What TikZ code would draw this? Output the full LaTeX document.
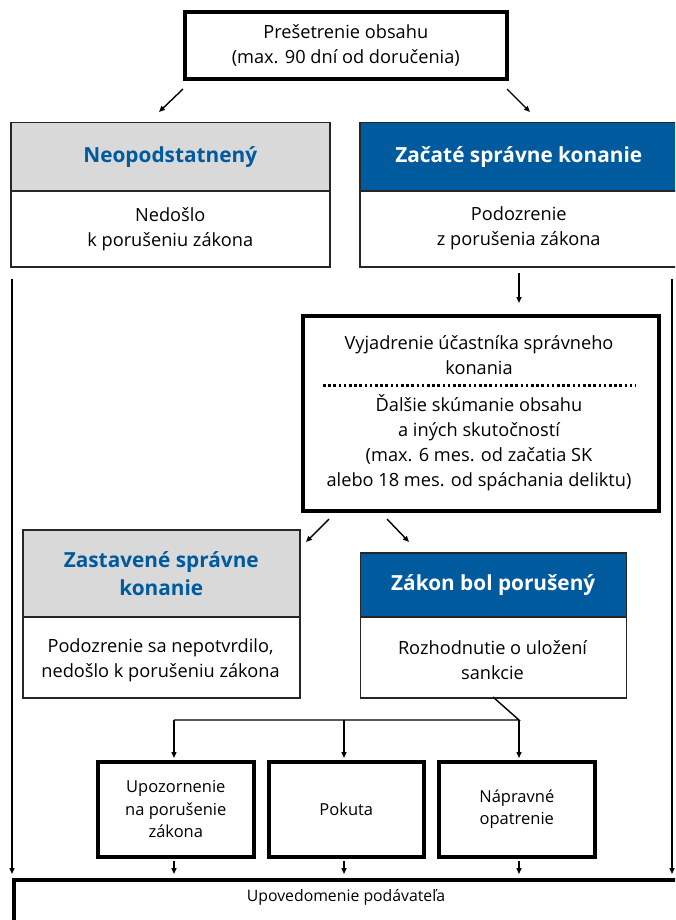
\documentclass[tikz,border=0pt]{standalone}
\usepackage{fontspec}
\setmainfont{Open Sans}
\usetikzlibrary{arrows.meta}
\definecolor{dblue}{RGB}{0,90,158}
\definecolor{lgray}{RGB}{217,217,217}
\begin{document}
\begin{tikzpicture}[x=1pt,y=-1pt,
  thinbox/.style={draw=black!85, line width=1.5pt, inner sep=0pt, anchor=north west},
  thickbox/.style={draw=black, line width=3.6pt, inner sep=0pt, anchor=north west},
  body/.style={align=center, font=\fontsize{18.2}{25}\selectfont},
  small/.style={align=center, font=\fontsize{16.5}{22.5}\selectfont},
  bsmall/.style={align=center, font=\fontsize{15.8}{22}\selectfont},
  headb/.style={align=center, text=dblue, font=\bfseries\fontsize{20.8}{28}\selectfont},
  headw/.style={align=center, text=white, font=\bfseries\fontsize{20.8}{28}\selectfont},
  arr/.style={line width=1.4pt, -{Triangle[length=6pt,width=5pt]}},
  ln/.style={line width=1.4pt}
]
\clip (0,0) rectangle (675,920);
\fill[white] (0,0) rectangle (675,920);

% top box
\node[thickbox, minimum width=322, minimum height=67] (top) at (183,10) {};
\node[body] (toptxt) at (top.center) {Prešetrenie obsahu\\(max. 90 dní od doručenia)};

% left first box
\node[thinbox, fill=lgray, minimum width=319, minimum height=68] (n1h) at (10,122) {};
\node[thinbox, minimum width=319, minimum height=76] (n1b) at (10,190) {};
\node[headb] (n1ht) at (n1h.center) {Neopodstatnený};
\node[body] (n1bt) at (n1b.center) {Nedošlo\\k porušeniu zákona};

% right first box
\node[thinbox, fill=dblue, minimum width=318, minimum height=68] (z1h) at (359,122) {};
\node[thinbox, minimum width=318, minimum height=76] (z1b) at (359,190) {};
\node[headw] (z1ht) at (z1h.center) {Začaté správne konanie};
\node[body] (z1bt) at (z1b.center) {Podozrenie\\z porušenia zákona};

% middle box
\node[thickbox, minimum width=356, minimum height=195] (mid) at (301,314) {};
\node[body] (midt1) at (479,355.5) {Vyjadrenie účastníka správneho\\konania};
\coordinate (dotA) at (323,385);
\coordinate (dotB) at (636,385);
\draw[line width=3pt, dash pattern=on 2.6pt off 2.6pt] (dotA) -- (dotB);
\node[body] (midt2) at (479,443) {Ďalšie skúmanie obsahu\\a iných skutočností\\(max. 6 mes. od začatia SK\\alebo 18 mes. od spáchania deliktu)};

% second left box
\node[thinbox, fill=lgray, minimum width=277, minimum height=87] (s2h) at (22,529) {};
\node[thinbox, minimum width=277, minimum height=81] (s2b) at (22,616) {};
\node[headb] (s2ht) at (s2h.center) {Zastavené správne\\konanie};
\node[body] (s2bt) at (160.5,660) {Podozrenie sa nepotvrdilo,\\nedošlo k porušeniu zákona};

% second right box
\node[thinbox, fill=dblue, minimum width=266, minimum height=64] (p2h) at (359.5,552) {};
\node[thinbox, minimum width=266, minimum height=81] (p2b) at (359.5,616) {};
\node[headw] (p2ht) at (p2h.center) {Zákon bol porušený};
\node[body] (p2bt) at (492.5,660) {Rozhodnutie o uložení\\sankcie};

% three sanction boxes
\node[thickbox, minimum width=156, minimum height=95] (u) at (96,760) {};
\node[thickbox, minimum width=155, minimum height=95] (p) at (267,760) {};
\node[thickbox, minimum width=156, minimum height=95] (n) at (437,760) {};
\node[small] (ut) at (u.center) {Upozornenie\\na porušenie\\zákona};
\node[small] (pt) at (p.center) {Pokuta};
\node[small] (nt) at (n.center) {Nápravné\\opatrenie};

% bottom box
\node[thickbox, minimum width=700, minimum height=80] (bot) at (12,878) {};
\node[bsmall] (bott) at (346,897) {Upovedomenie podávateľa};

% arrows top
\coordinate (a1s) at (183,89); \coordinate (a1e) at (159,112);
\coordinate (a2s) at (507,89); \coordinate (a2e) at (530,112);
\draw[arr] (a1s) -- (a1e);
\draw[arr] (a2s) -- (a2e);

% arrow into middle
\coordinate (a3s) at (519,273); \coordinate (a3e) at (519,303);
\draw[arr] (a3s) -- (a3e);

% side long arrows
\coordinate (l1s) at (12,279); \coordinate (l1e) at (12,874);
\coordinate (r1s) at (672,279); \coordinate (r1e) at (672,874);
\draw[arr] (l1s) -- (l1e);
\draw[arr] (r1s) -- (r1e);

% arrows from middle
\coordinate (a4s) at (329,519); \coordinate (a4e) at (306,542);
\coordinate (a5s) at (387,519); \coordinate (a5e) at (409,542);
\draw[arr] (a4s) -- (a4e);
\draw[arr] (a5s) -- (a5e);

% branch to sanctions
\coordinate (br0) at (493,697);
\coordinate (brR) at (519,720);
\coordinate (brM) at (344,720);
\coordinate (brL) at (174,720);
\coordinate (uin) at (174,758);
\coordinate (pin) at (344,758);
\coordinate (nin) at (519,758);
\draw[ln] (br0) -- (brR) -- (brL);
\draw[arr] (brL) -- (uin);
\draw[arr] (brM) -- (pin);
\draw[arr] (brR) -- (nin);

% small arrows to bottom
\coordinate (b1s) at (174,861); \coordinate (b1e) at (174,874);
\coordinate (b2s) at (344,861); \coordinate (b2e) at (344,874);
\coordinate (b3s) at (519,861); \coordinate (b3e) at (519,874);
\draw[arr] (b1s) -- (b1e);
\draw[arr] (b2s) -- (b2e);
\draw[arr] (b3s) -- (b3e);
\end{tikzpicture}
\end{document}
